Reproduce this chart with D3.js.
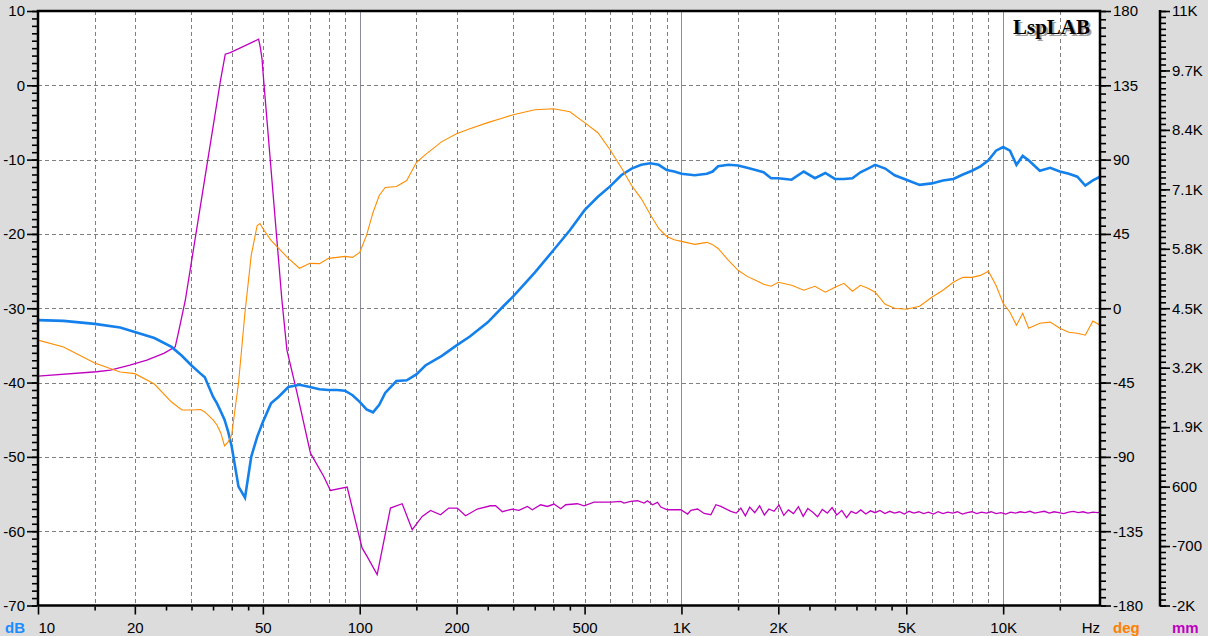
<html>
<head>
<script src="https://d3js.org/d3.v7.min.js"></script>
<style>
body { margin:0; background:#dcdcdc; }
text { font-family: Arial, "Liberation Sans", sans-serif; }
</style>
</head>
<body>
<script>

var width = 1208;
var height = 636;
var plot = {l:38, r:1100, t:11, b:605.5};

// frequency grid shared by SPL (dB) and phase (deg)
var freq = [10,12,15,18,20,23,26,28,30,32,33,35,36,37,38,39,40,42,44,46,48,49,50,53,56,60,65,70,75,80,85,90,95,
  100,105,110,115,120,130,140,150,160,180,200,220,250,280,300,350,400,450,500,550,600,650,700,750,800,850,900,950,
  1000,1100,1200,1250,1300,1400,1500,1600,1700,1800,1900,2000,2200,2400,2600,2800,3000,3200,3400,3600,3800,4000,4300,4600,
  5000,5500,6000,6500,7000,7500,8000,8500,9000,9500,10000,10500,11000,11500,12000,13000,14000,15000,16000,17000,18000,19000,20000];

var splDb = [-31.6,-31.7,-32.1,-32.6,-33.2,-34.0,-35.2,-36.4,-37.7,-38.8,-39.3,-41.9,-42.8,-43.9,-45.0,-46.6,-48.6,-54.0,-55.5,-50.0,-47.3,-46.3,-45.3,-42.8,-41.9,-40.6,-40.3,-40.6,-40.9,-41.0,-41.0,-41.1,-41.7,
  -42.6,-43.6,-44.0,-43.0,-41.4,-39.8,-39.7,-38.9,-37.7,-36.4,-35.0,-33.8,-31.9,-29.7,-28.4,-25.2,-22.2,-19.5,-16.8,-15.0,-13.6,-12.1,-11.2,-10.7,-10.5,-10.7,-11.4,-11.6,
  -11.9,-12.1,-11.9,-11.6,-10.9,-10.7,-10.8,-11.1,-11.4,-11.7,-12.5,-12.5,-12.7,-11.6,-12.5,-11.8,-12.6,-12.6,-12.5,-11.7,-11.2,-10.7,-11.2,-12.1,
  -12.7,-13.4,-13.2,-12.8,-12.6,-12.0,-11.5,-10.9,-10.1,-8.8,-8.3,-8.8,-10.7,-9.5,-10.1,-11.5,-11.1,-11.6,-11.9,-12.3,-13.5,-12.8,-12.3];

var phaseDeg = [-19.3,-23.5,-33.2,-38.6,-39.6,-45.9,-56.8,-61.6,-61.6,-61.3,-62.8,-67.6,-70.7,-75.5,-83.3,-80.9,-76.7,-45.3,-2.4,32.0,50.1,51.3,48.3,41.1,36.2,30.2,24.2,27.2,27.0,30.2,30.8,31.4,30.8,
  33.8,44.1,58.0,68.3,73.1,73.7,77.3,88.2,93.0,100.9,105.7,108.7,112.4,115.4,117.2,120.2,120.8,119.0,112.4,106.3,96.0,85.2,74.3,66.4,56.8,48.3,43.5,41.5,
  40.5,38.7,39.9,38.5,36.2,29.0,23.0,19.3,16.9,14.5,13.3,15.7,13.9,10.9,13.3,9.7,12.7,15.1,10.3,13.9,12.1,9.7,2.4,0.0,
  -0.6,1.2,6.7,10.9,15.7,18.7,18.7,19.9,22.4,13.9,3.0,-2.4,-10.3,-3.0,-12.1,-9.1,-8.4,-12.1,-14.5,-15.1,-16.3,-7.8,-10.3];

// excursion (mm axis) has its own frequency points
var freqMm = [10,15.2,16.8,19.3,21.8,24.6,26.7,27.3,28.7,36.9,38.2,39.6,48.5,49.1,49.7,50.3,57.3,59.4,63.9,70.3,77.3,81.1,91.4,
  101.7,105.4,113.3,124.6,135.5,145.6,156.4,166,178.3,189.2,201,213.3,232,255.1,264.5,277.5,298.1,312.5,331.9,344,365.1,383.1,
  401.7,421.5,436.8,475,498,535.1,603,647.6,663.1,695.7,730,765.4,784.3,812.8,842.5,862.7,905.1,995.6,1044.7,1069.6,1122.2,1176.6,
  1234.5,1279.6,1326.2,1424.6,1480,1530,1580,1630,1690,1750,1810,1870,1940,2010,2080,2150,2230,2310,2390,2470,2560,2650,2740,2840,
  2940,3040,3150,3260,3370,3490,3610,3740,3870,4000,4140,4290,4440,4600,4760,4930,5100,5280,5470,5660,5860,6070,6280,6500,6730,
  6970,7210,7470,7730,8000,8280,8570,8870,9180,9510,9840,10190,10550,10920,11300,11700,12110,12540,12980,13440,13910,14400,14910,
  15430,15970,16540,17120,17720,18350,18990,19660,20000];

var excMm = [3017,3111,3148,3257,3366,3512,3656,3955,4675,9473,10056,10090,10383,10200,9953,9473,4675,3584,2639,1331,820,515,589,
  -741,-925,-1324,131,225,-342,-52,79,-15,131,131,-37,109,181,181,50,109,79,166,94,203,166,
  218,116,203,225,181,262,262,275,240,275,291,240,291,203,254,153,94,94,0,79,109,13,
  -15,203,166,57,20,130,-40,150,30,180,-20,110,60,200,-30,90,10,160,-50,120,40,-60,100,20,
  140,-20,80,-80,60,10,90,0,70,30,80,10,60,20,50,0,60,20,50,10,40,0,50,10,40,
  20,50,0,30,50,10,40,20,50,10,30,0,40,20,50,30,60,20,40,60,20,50,30,
  10,40,60,30,50,20,40,30,40];

// ticks and labels
var dbTicks = [10,0,-10,-20,-30,-40,-50,-60,-70];
var degTicks = [180,135,90,45,0,-45,-90,-135,-180];
var mmTicks = [11000,9700,8400,7100,5800,4500,3200,1900,600,-700,-2000];
var mmLabels = ["11K","9.7K","8.4K","7.1K","5.8K","4.5K","3.2K","1.9K","600","-700","-2K"];
var freqTicks = [10,20,50,100,200,500,1000,2000,5000,10000];
var freqLabels = ["10","20","50","100","200","500","1K","2K","5K","10K"];
var freqMinor = [15,25,30,35,40,45,150,250,300,350,400,450,1500,2500,3000,3500,4000,4500,15000];
var gridDashed = [15,20,30,40,50,60,70,80,90,150,200,300,400,500,600,700,800,900,1500,2000,3000,4000,5000,6000,7000,8000,9000,15000];
var gridSolid = [100,1000,10000];

var x = d3.scaleLog().domain([10,20000]).range([plot.l, plot.r]);
var yDb = d3.scaleLinear().domain([-70,10]).range([plot.b, plot.t]);
var yDeg = d3.scaleLinear().domain([-180,180]).range([plot.b, plot.t]);
var yMm = d3.scaleLinear().domain([-2000,11000]).range([plot.b, plot.t]);

var svg = d3.select("body").append("svg")
    .attr("width", width)
    .attr("height", height);

svg.append("rect").attr("width", width).attr("height", height).attr("fill", "#dcdcdc");
svg.append("rect")
    .attr("x", plot.l).attr("y", plot.t)
    .attr("width", plot.r - plot.l).attr("height", plot.b - plot.t)
    .attr("fill", "white");

// grid
var grid = svg.append("g").attr("shape-rendering", "crispEdges");
grid.selectAll(".vd").data(gridDashed).enter().append("line")
    .attr("x1", function(d){ return Math.round(x(d)) + 0.5; })
    .attr("x2", function(d){ return Math.round(x(d)) + 0.5; })
    .attr("y1", plot.t).attr("y2", plot.b)
    .attr("stroke", "#808080").attr("stroke-dasharray", "4,3");
grid.selectAll(".vs").data(gridSolid).enter().append("line")
    .attr("x1", function(d){ return Math.round(x(d)) + 0.5; })
    .attr("x2", function(d){ return Math.round(x(d)) + 0.5; })
    .attr("y1", plot.t).attr("y2", plot.b)
    .attr("stroke", "#8c8c9c");
grid.selectAll(".h").data(dbTicks.slice(1, -1)).enter().append("line")
    .attr("x1", plot.l).attr("x2", plot.r)
    .attr("y1", function(d){ return Math.round(yDb(d)) + 0.5; })
    .attr("y2", function(d){ return Math.round(yDb(d)) + 0.5; })
    .attr("stroke", "#808080").attr("stroke-dasharray", "4,3");

// curves
var clip = svg.append("clipPath").attr("id", "clip")
    .append("rect").attr("x", plot.l).attr("y", plot.t)
    .attr("width", plot.r - plot.l).attr("height", plot.b - plot.t);

var curves = svg.append("g").attr("clip-path", "url(#clip)").attr("fill", "none");

curves.append("path")
    .datum(freqMm.map(function(f, i){ return [f, excMm[i]]; }))
    .attr("stroke", "#c000c0").attr("stroke-width", 1.3)
    .attr("d", d3.line().x(function(d){ return x(d[0]); }).y(function(d){ return yMm(d[1]); }));

curves.append("path")
    .datum(freq.map(function(f, i){ return [f, splDb[i]]; }))
    .attr("stroke", "#1480ec").attr("stroke-width", 2.6)
    .attr("d", d3.line().x(function(d){ return x(d[0]); }).y(function(d){ return yDb(d[1]); }));

curves.append("path")
    .datum(freq.map(function(f, i){ return [f, phaseDeg[i]]; }))
    .attr("stroke", "#ff8c00").attr("stroke-width", 1.1)
    .attr("d", d3.line().x(function(d){ return x(d[0]); }).y(function(d){ return yDeg(d[1]); }));

// frame
svg.append("rect")
    .attr("x", plot.l).attr("y", plot.t)
    .attr("width", plot.r - plot.l).attr("height", plot.b - plot.t)
    .attr("fill", "none").attr("stroke", "black").attr("stroke-width", 2.5);

// axes
function styleAxis(g) {
  g.select(".domain").remove();
  g.selectAll("line").attr("stroke", "black").attr("stroke-width", 1.6);
  g.selectAll("text").attr("fill", "black").style("font-size", "15px")
    .style("font-family", "Arial, 'Liberation Sans', sans-serif");
}

var dbMinor = d3.range(-70, 11, 1);
svg.append("g").attr("transform", "translate(" + (plot.l - 1) + ",0)")
    .call(d3.axisLeft(yDb).tickValues(dbMinor).tickSize(5).tickFormat(""))
    .call(styleAxis);
svg.append("g").attr("transform", "translate(" + (plot.l - 1) + ",0)")
    .call(d3.axisLeft(yDb).tickValues(dbTicks).tickSize(10).tickPadding(2).tickFormat(function(d){ return String(d); }))
    .call(styleAxis);

var degMinor = d3.range(-180, 181, 5);
svg.append("g").attr("transform", "translate(" + (plot.r + 1) + ",0)")
    .call(d3.axisRight(yDeg).tickValues(degMinor).tickSize(5).tickFormat(""))
    .call(styleAxis);
svg.append("g").attr("transform", "translate(" + (plot.r + 1) + ",0)")
    .call(d3.axisRight(yDeg).tickValues(degTicks).tickSize(10).tickPadding(2).tickFormat(function(d){ return String(d); }))
    .call(styleAxis);

var mmAxisX = 1160;
svg.append("line").attr("x1", mmAxisX).attr("x2", mmAxisX).attr("y1", plot.t - 1).attr("y2", plot.b + 1)
    .attr("stroke", "black").attr("stroke-width", 2.5);
var mmMinor = d3.range(-2000, 11001, 130);
svg.append("g").attr("transform", "translate(" + mmAxisX + ",0)")
    .call(d3.axisRight(yMm).tickValues(mmMinor).tickSize(6).tickFormat(""))
    .call(styleAxis);
svg.append("g").attr("transform", "translate(" + mmAxisX + ",0)")
    .call(d3.axisRight(yMm).tickValues(mmTicks).tickSize(10).tickPadding(2)
      .tickFormat(function(d, i){ return mmLabels[i]; }))
    .call(styleAxis);

svg.append("g").attr("transform", "translate(0," + (plot.b + 1) + ")")
    .call(d3.axisBottom(x).tickValues(freqMinor).tickSize(4).tickFormat(""))
    .call(styleAxis);
var xAxis = svg.append("g").attr("transform", "translate(0," + (plot.b + 1) + ")")
    .call(d3.axisBottom(x).tickValues(freqTicks).tickSize(8).tickPadding(8)
      .tickFormat(function(d, i){ return freqLabels[i]; }))
    .call(styleAxis);
xAxis.selectAll("text").filter(function(d){ return d === 10; }).attr("text-anchor", "start");

// unit labels
svg.append("text").attr("x", 5).attr("y", 633).attr("fill", "#1a8cff")
    .style("font-size", "15px").style("font-weight", "bold").text("dB");
svg.append("text").attr("x", plot.r).attr("y", 633).attr("text-anchor", "end").attr("fill", "black")
    .style("font-size", "15px").text("Hz");
svg.append("text").attr("x", 1113).attr("y", 633).attr("fill", "#ff8000")
    .style("font-size", "15px").style("font-weight", "bold").text("deg");
svg.append("text").attr("x", 1172).attr("y", 633).attr("fill", "#c000c0")
    .style("font-size", "15px").style("font-weight", "bold").text("mm");

// brand
svg.append("text").attr("x", 1092).attr("y", 36).attr("text-anchor", "end")
    .attr("fill", "#a0a0a0").style("font-family", "'Liberation Serif', 'Times New Roman', serif")
    .style("font-size", "21px").style("font-weight", "bold").text("LspLAB");
svg.append("text").attr("x", 1090).attr("y", 34).attr("text-anchor", "end")
    .attr("fill", "black").style("font-family", "'Liberation Serif', 'Times New Roman', serif")
    .style("font-size", "21px").style("font-weight", "bold").text("LspLAB");

</script>
</body>
</html>
